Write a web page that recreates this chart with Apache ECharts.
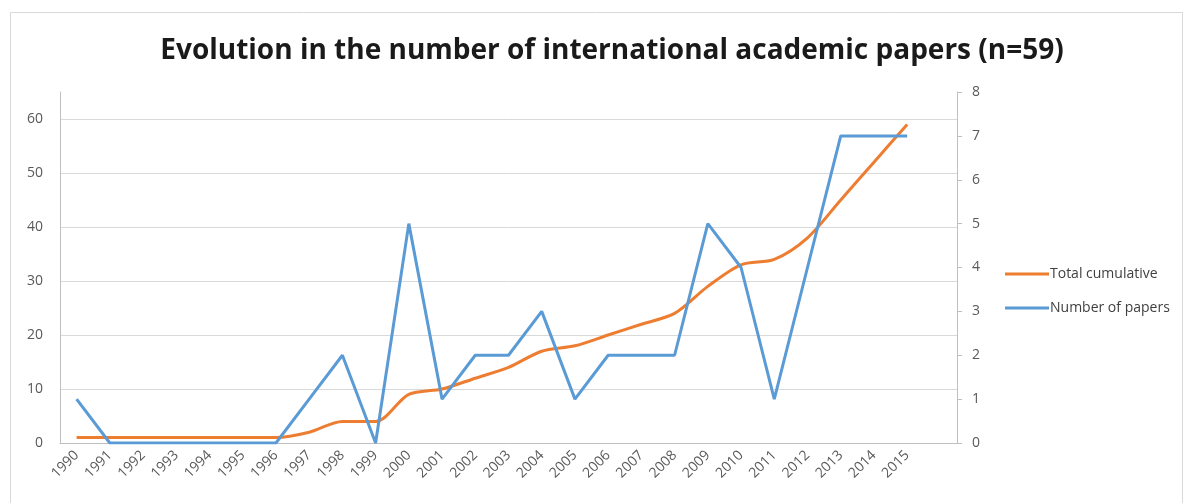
<!DOCTYPE html>
<html>
<head>
<meta charset="utf-8">
<script src="https://cdn.jsdelivr.net/npm/echarts@6/dist/echarts.min.js"></script>
<style>
  html, body { margin: 0; padding: 0; background: #fff; }
  #chart { width: 1188px; height: 503px; }
</style>
</head>
<body>
<div id="chart"></div>
<script>
// Publication years
const years = ['1990','1991','1992','1993','1994','1995','1996','1997','1998','1999',
  '2000','2001','2002','2003','2004','2005','2006','2007','2008','2009',
  '2010','2011','2012','2013','2014','2015'];

// Papers published each year (right axis)
const papersPerYear = [1,0,0,0,0,0,0,1,2,0,5,1,2,2,3,1,2,2,2,5,4,1,4,7,7,7];

// Running total of papers (left axis)
const totalCumulative = [1,1,1,1,1,1,1,2,4,4,9,10,12,14,17,18,20,22,24,29,33,34,38,45,52,59];

const leftTicks = [0,10,20,30,40,50,60];

const chart = echarts.init(document.getElementById('chart'));
const labelColor = '#595959';
const axisGrey = '#bfbfbf';

chart.setOption({
  animation: false,
  backgroundColor: '#fff',
  graphic: [{
    type: 'rect',
    shape: { x: 10.5, y: 12.5, width: 1172, height: 520 },
    style: { fill: 'none', stroke: '#d9d9d9', lineWidth: 1 },
    silent: true
  }],
  title: {
    text: 'Evolution in the number of international academic papers (n=59)',
    left: 607, top: 32, textAlign: 'center',
    textStyle: { fontFamily: 'Open Sans', fontWeight: 'bold', fontSize: 28, color: '#1a1a1a' }
  },
  legend: {
    orient: 'vertical',
    left: 1000, top: 262,
    itemWidth: 44, itemHeight: 3, itemGap: 20,
    icon: 'rect',
    textStyle: { fontFamily: 'Open Sans', fontSize: 14, color: '#404040', padding: [0,0,0,-4] },
    data: ['Total cumulative', 'Number of papers']
  },
  grid: { left: 60, right: 231, top: 92, bottom: 60 },
  xAxis: {
    type: 'category',
    data: years.concat(['']),
    boundaryGap: true,
    axisLine: { lineStyle: { color: axisGrey, width: 1 } },
    axisTick: { show: false },
    axisLabel: {
      rotate: 45, interval: 0, fontFamily: 'Open Sans', fontSize: 14, color: labelColor, margin: 10
    }
  },
  yAxis: [{
    type: 'value', min: 0, max: 65, interval: 10,
    axisLine: { show: true, lineStyle: { color: axisGrey } },
    axisTick: { show: false, customValues: leftTicks },
    axisLabel: { customValues: leftTicks, fontFamily: 'Open Sans', fontSize: 14, color: labelColor, margin: 17 },
    splitLine: { show: true, lineStyle: { color: '#d9d9d9', width: 1 } }
  }, {
    type: 'value', min: 0, max: 8, interval: 1,
    position: 'right',
    axisLine: { show: true, lineStyle: { color: axisGrey } },
    axisTick: { show: true, inside: false, length: 5, lineStyle: { color: axisGrey } },
    axisLabel: { fontFamily: 'Open Sans', fontSize: 14, color: labelColor, margin: 15 },
    splitLine: { show: false }
  }],
  series: [{
    name: 'Total cumulative',
    type: 'line',
    yAxisIndex: 0,
    data: totalCumulative,
    smooth: 0.3,
    showSymbol: false,
    lineStyle: { color: '#ED7D31', width: 3 },
    itemStyle: { color: '#ED7D31' },
    z: 2
  }, {
    name: 'Number of papers',
    type: 'line',
    yAxisIndex: 1,
    data: papersPerYear,
    showSymbol: false,
    lineStyle: { color: '#5B9BD5', width: 3 },
    itemStyle: { color: '#5B9BD5' },
    z: 3
  }]
});
</script>
</body>
</html>
